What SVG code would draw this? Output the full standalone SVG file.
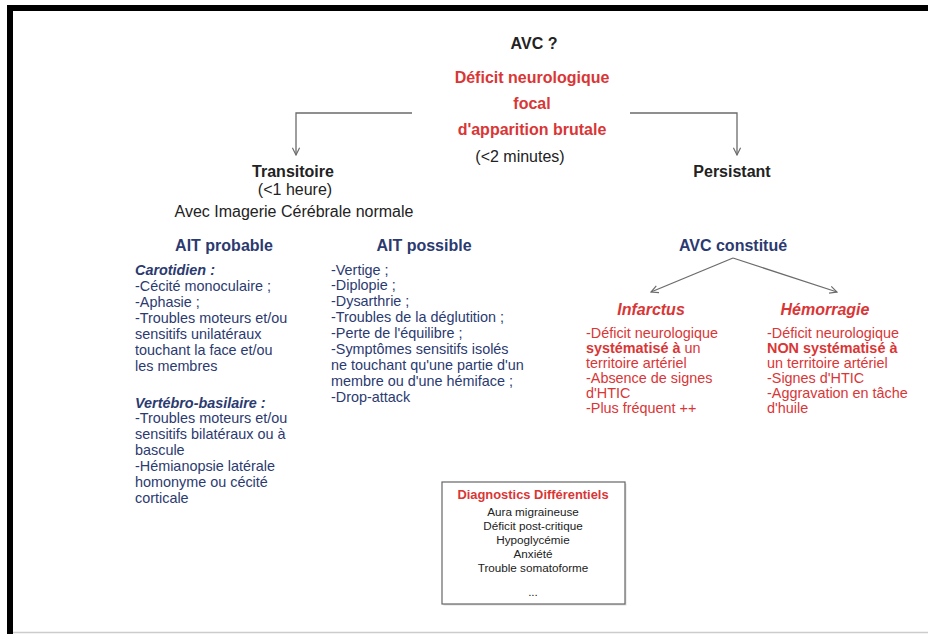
<svg xmlns="http://www.w3.org/2000/svg" width="928" height="634" viewBox="0 0 928 634">
  <style>
    text { font-family: "Liberation Sans", Arial, Helvetica, sans-serif; }
    .dark { fill: #222222; font-size: 16px; }
    .b { font-weight: bold; }
    .red { fill: #d93636; }
    .navy { fill: #2b3a70; }
    .navyTitle { fill: #2b3a70; font-size: 16px; font-weight: bold; }
    .body { font-size: 14.4px; }
    .c { text-anchor: middle; }
    .conn { fill: none; stroke: #6b6b6b; stroke-width: 1.3; }
    .dd { font-size: 11.7px; fill: #222222; text-anchor: middle; }
    .ddTitle { font-size: 12.9px; fill: #d93636; font-weight: bold; text-anchor: middle; }
  </style>
  <defs>
    <marker id="arr" viewBox="0 0 10 10" refX="9" refY="5" markerWidth="9" markerHeight="9" markerUnits="userSpaceOnUse" orient="auto">
      <path d="M1,1 L9,5 L1,9" fill="none" stroke="#6b6b6b" stroke-width="1.3"/>
    </marker>
  </defs>

  <!-- page -->
  <rect x="0" y="0" width="928" height="634" fill="#ffffff"/>
  <rect x="7" y="5" width="921" height="6" fill="#000000"/>
  <rect x="7" y="5" width="6" height="629" fill="#000000"/>
  <line x1="13" y1="632.5" x2="928" y2="632.5" stroke="#cccccc" stroke-width="1.5"/>

  <!-- connectors -->
  <g id="connectors">
    <path class="conn" d="M412,113 H296 V155" marker-end="url(#arr)"/>
    <path class="conn" d="M630,113 H737 V155" marker-end="url(#arr)"/>
    <path class="conn" d="M733,258 L651,292" marker-end="url(#arr)"/>
    <path class="conn" d="M733,258 L837,292" marker-end="url(#arr)"/>
  </g>

  <g id="avc">
    <text class="dark b c" x="534" y="49">AVC ?</text>
  </g>

  <g id="deficit">
    <text class="red b c" x="532" y="83" font-size="16">Déficit neurologique</text>
    <text class="red b c" x="532" y="109" font-size="16">focal</text>
    <text class="red b c" x="532" y="135" font-size="16">d'apparition brutale</text>
    <text class="dark c" x="520" y="162">(&lt;2 minutes)</text>
  </g>

  <g id="transitoire">
    <text class="dark b c" x="293" y="177">Transitoire</text>
    <text class="dark c" x="295" y="195">(&lt;1 heure)</text>
    <text class="dark c" x="294" y="217">Avec Imagerie Cérébrale normale</text>
  </g>

  <g id="persistant">
    <text class="dark b c" x="732" y="177">Persistant</text>
  </g>

  <g id="ait-probable">
    <text class="navyTitle c" x="224" y="251">AIT probable</text>
    <g class="navy body">
      <text x="135" y="275" font-weight="bold" font-style="italic">Carotidien :</text>
      <text x="135" y="291">-Cécité monoculaire ;</text>
      <text x="135" y="307">-Aphasie ;</text>
      <text x="135" y="323">-Troubles moteurs et/ou</text>
      <text x="135" y="339">sensitifs unilatéraux</text>
      <text x="135" y="355">touchant la face et/ou</text>
      <text x="135" y="371">les membres</text>
      <text x="135" y="408" font-weight="bold" font-style="italic">Vertébro-basilaire :</text>
      <text x="135" y="423">-Troubles moteurs et/ou</text>
      <text x="135" y="439">sensitifs bilatéraux ou à</text>
      <text x="135" y="455">bascule</text>
      <text x="135" y="471">-Hémianopsie latérale</text>
      <text x="135" y="487">homonyme ou cécité</text>
      <text x="135" y="503">corticale</text>
    </g>
  </g>

  <g id="ait-possible">
    <text class="navyTitle c" x="424" y="251">AIT possible</text>
    <g class="navy body">
      <text x="331" y="275">-Vertige ;</text>
      <text x="331" y="290">-Diplopie ;</text>
      <text x="331" y="306">-Dysarthrie ;</text>
      <text x="331" y="322">-Troubles de la déglutition ;</text>
      <text x="331" y="338">-Perte de l'équilibre ;</text>
      <text x="331" y="354">-Symptômes sensitifs isolés</text>
      <text x="331" y="370">ne touchant qu'une partie d'un</text>
      <text x="331" y="386">membre ou d'une hémiface ;</text>
      <text x="331" y="402">-Drop-attack</text>
    </g>
  </g>

  <g id="avc-constitue">
    <text class="navyTitle c" x="733" y="251">AVC constitué</text>
  </g>

  <g id="infarctus">
    <text class="red b c" x="651" y="315" font-size="16" font-style="italic">Infarctus</text>
    <g class="red body">
      <text x="586" y="338">-Déficit neurologique</text>
      <text x="586" y="353"><tspan font-weight="bold">systématisé à</tspan> un</text>
      <text x="586" y="368">territoire artériel</text>
      <text x="586" y="383">-Absence de signes</text>
      <text x="586" y="398">d'HTIC</text>
      <text x="586" y="413">-Plus fréquent ++</text>
    </g>
  </g>

  <g id="hemorragie">
    <text class="red b c" x="825" y="315" font-size="16" font-style="italic">Hémorragie</text>
    <g class="red body">
      <text x="767" y="338">-Déficit neurologique</text>
      <text x="767" y="353" font-weight="bold">NON systématisé à</text>
      <text x="767" y="368">un territoire artériel</text>
      <text x="767" y="383">-Signes d'HTIC</text>
      <text x="767" y="398">-Aggravation en tâche</text>
      <text x="767" y="413">d'huile</text>
    </g>
  </g>

  <g id="diagnostics">
    <rect x="443.5" y="483.5" width="183" height="122" fill="#dddddd"/>
    <rect x="442" y="482" width="183" height="122" fill="#ffffff" stroke="#666666" stroke-width="1.2"/>
    <text class="ddTitle" x="533" y="499">Diagnostics Différentiels</text>
    <text class="dd" x="533" y="516">Aura migraineuse</text>
    <text class="dd" x="533" y="530">Déficit post-critique</text>
    <text class="dd" x="533" y="544">Hypoglycémie</text>
    <text class="dd" x="533" y="558">Anxiété</text>
    <text class="dd" x="533" y="572">Trouble somatoforme</text>
    <text class="dd" x="533" y="596" font-size="9">...</text>
  </g>
</svg>
